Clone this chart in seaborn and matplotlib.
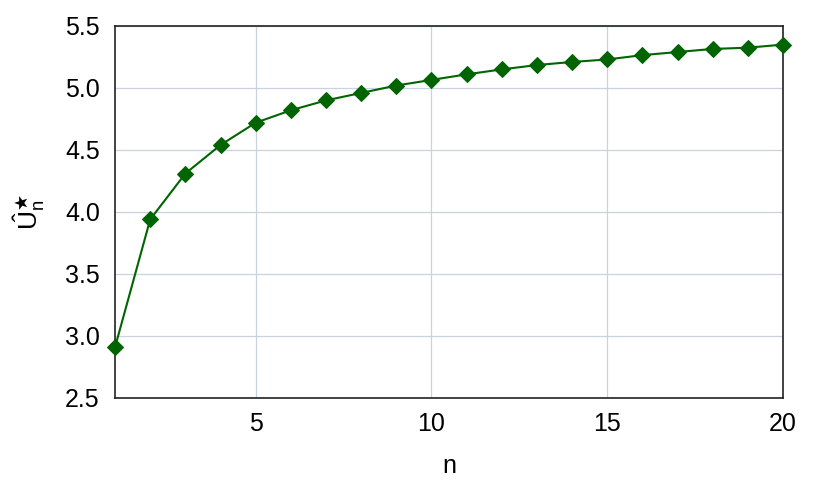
import numpy as np
import pandas as pd
import matplotlib
matplotlib.use('Agg')
import matplotlib.pyplot as plt
import seaborn as sns

# data
n_values = list(range(1, 21))
u_hat = [2.91, 3.94, 4.31, 4.54, 4.72, 4.82, 4.90, 4.96, 5.02, 5.065,
         5.11, 5.15, 5.185, 5.21, 5.23, 5.265, 5.29, 5.315, 5.325, 5.35]
x_ticks = [5, 10, 15, 20]
y_ticks = [2.5, 3.0, 3.5, 4.0, 4.5, 5.0, 5.5]

df = pd.DataFrame({'n': n_values, 'u': u_hat})

sns.set_style('white')
plt.rcParams['font.family'] = ['Liberation Sans', 'DejaVu Sans']
plt.rcParams['mathtext.fontset'] = 'custom'
plt.rcParams['mathtext.rm'] = 'Liberation Sans'
plt.rcParams['mathtext.it'] = 'Liberation Sans:italic'
plt.rcParams['text.color'] = 'black'
plt.rcParams['axes.labelcolor'] = 'black'
plt.rcParams['xtick.color'] = 'black'
plt.rcParams['ytick.color'] = 'black'

fig = plt.figure(figsize=(8.3, 4.84), dpi=100)
ax = fig.add_axes([0.1386, 0.1777, 0.8048, 0.7686])

sns.lineplot(data=df, x='n', y='u', ax=ax, color='#006400', marker='D',
             markersize=8, markeredgecolor='#006400', linewidth=1.5,
             clip_on=False, zorder=3)

ax.set_xlim(1, 20)
ax.set_ylim(2.5, 5.5)
ax.set_xticks(x_ticks)
ax.set_yticks(y_ticks)
ax.set_yticklabels([f'{v:.1f}' for v in y_ticks])
ax.grid(True, color='#c9d3df', linewidth=0.9)
ax.set_axisbelow(True)
ax.tick_params(axis='both', direction='in', length=5, color='#555555',
               labelsize=18, labelcolor='black')
ax.tick_params(axis='y', pad=11)
ax.tick_params(axis='x', pad=10)

for side in ['left', 'bottom', 'top', 'right']:
    ax.spines[side].set_visible(True)
    ax.spines[side].set_color('#222222')
    ax.spines[side].set_linewidth(1.2)

ax.set_xlabel('n', fontsize=18, labelpad=13)
ax.set_ylabel(r'$\hat{\mathrm{U}}_{\mathrm{n}}^{\bigstar}$', fontsize=19, labelpad=13)

plt.savefig('out.png', dpi=100)
